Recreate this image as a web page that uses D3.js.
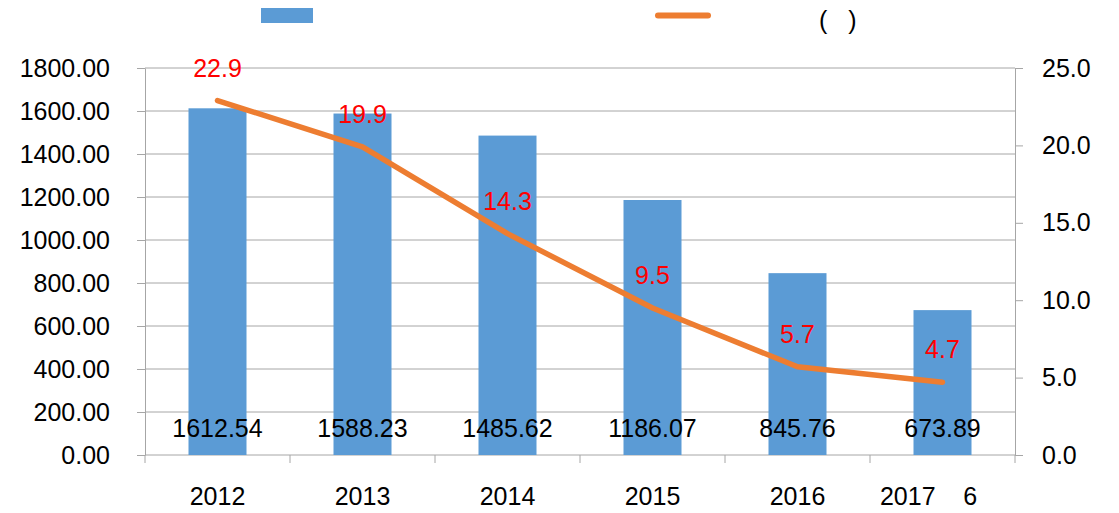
<!DOCTYPE html>
<html>
<head>
<meta charset="utf-8">
<script src="https://cdn.jsdelivr.net/npm/d3@7"></script>
<style>
  body { margin: 0; background: #fff; }
  text { font-family: "Liberation Sans", Arial, sans-serif; }
</style>
</head>
<body>
<svg width="1119" height="513"></svg>
<script>
var categories = ["2012", "2013", "2014", "2015", "2016", "2017    6    "];
var barValues = [1612.54, 1588.23, 1485.62, 1186.07, 845.76, 673.89];
var lineValues = [22.9, 19.9, 14.3, 9.5, 5.7, 4.7];
var leftTicks = [0, 200, 400, 600, 800, 1000, 1200, 1400, 1600, 1800];
var rightTicks = [0, 5, 10, 15, 20, 25];

var svg = d3.select("svg"),
    plotLeft = 145, plotRight = 1015,
    plotTop = 68, plotBottom = 455,
    gridColor = "#a6a6a6";

var xScale = d3.scaleBand().domain(categories).range([plotLeft, plotRight]).paddingInner(0.6).paddingOuter(0.3),
    xBand = d3.scaleBand().domain(categories).range([plotLeft, plotRight]),
    yLeft = d3.scaleLinear().domain([0, 1800]).range([plotBottom, plotTop]),
    yRight = d3.scaleLinear().domain([0, 25]).range([plotBottom, plotTop]);

// gridlines
svg.append("g")
    .selectAll("line")
    .data(leftTicks)
    .enter().append("line")
    .attr("x1", plotLeft).attr("x2", plotRight)
    .attr("y1", d => yLeft(d)).attr("y2", d => yLeft(d))
    .attr("stroke", gridColor)
    .attr("stroke-width", 1);

// left axis
var gl = svg.append("g")
    .attr("transform", "translate(" + plotLeft + ",0)")
    .call(d3.axisLeft(yLeft).tickValues(leftTicks).tickFormat(d3.format(".2f"))
        .tickSize(8).tickSizeOuter(0).tickPadding(27));

// right axis
var gr = svg.append("g")
    .attr("transform", "translate(" + plotRight + ",0)")
    .call(d3.axisRight(yRight).tickValues(rightTicks).tickFormat(d3.format(".1f"))
        .tickSize(8).tickSizeOuter(0).tickPadding(19));

[gl, gr].forEach(function(g) {
    g.select(".domain").attr("stroke", gridColor);
    g.selectAll(".tick line").attr("stroke", gridColor);
    g.selectAll(".tick text")
        .attr("font-size", "25px")
        .attr("fill", "#000")
        .style("font-family", "'Liberation Sans', Arial, sans-serif");
});

// category boundary ticks
var bounds = categories.map(d => xBand(d)).concat([plotRight]);
svg.append("g")
    .selectAll("line")
    .data(bounds)
    .enter().append("line")
    .attr("x1", d => d).attr("x2", d => d)
    .attr("y1", plotBottom).attr("y2", plotBottom + 8)
    .attr("stroke", gridColor);

// category labels
svg.append("g")
    .selectAll("text")
    .data(categories)
    .enter().append("text")
    .attr("x", d => xBand(d) + xBand.bandwidth() / 2)
    .attr("y", 505)
    .attr("text-anchor", "middle")
    .attr("font-size", "25px")
    .style("white-space", "pre")
    .text(d => d);

// bars
svg.append("g")
    .selectAll("rect")
    .data(barValues)
    .enter().append("rect")
    .attr("x", (d, i) => xScale(categories[i]))
    .attr("y", d => yLeft(d))
    .attr("width", xScale.bandwidth())
    .attr("height", d => plotBottom - yLeft(d))
    .attr("fill", "#5b9bd5");

// bar labels
svg.append("g")
    .selectAll("text")
    .data(barValues)
    .enter().append("text")
    .attr("x", (d, i) => xBand(categories[i]) + xBand.bandwidth() / 2)
    .attr("y", 437)
    .attr("text-anchor", "middle")
    .attr("font-size", "25px")
    .attr("fill", "#000")
    .text(d => d3.format(".2f")(d));

// line
var line = d3.line()
    .x((d, i) => xBand(categories[i]) + xBand.bandwidth() / 2)
    .y(d => yRight(d));

svg.append("path")
    .datum(lineValues)
    .attr("d", line)
    .attr("fill", "none")
    .attr("stroke", "#ed7d31")
    .attr("stroke-width", 5.5)
    .attr("stroke-linecap", "round")
    .attr("stroke-linejoin", "round");

// line labels
svg.append("g")
    .selectAll("text")
    .data(lineValues)
    .enter().append("text")
    .attr("x", (d, i) => xBand(categories[i]) + xBand.bandwidth() / 2)
    .attr("y", d => yRight(d) - 24)
    .attr("text-anchor", "middle")
    .attr("font-size", "25px")
    .attr("fill", "#ff0000")
    .text(d => d3.format(".1f")(d));

// legend
svg.append("rect")
    .attr("x", 261).attr("y", 8)
    .attr("width", 52).attr("height", 15)
    .attr("fill", "#5b9bd5");

svg.append("line")
    .attr("x1", 658).attr("x2", 708)
    .attr("y1", 15.5).attr("y2", 15.5)
    .attr("stroke", "#ed7d31")
    .attr("stroke-width", 6)
    .attr("stroke-linecap", "round");

svg.append("text")
    .attr("x", 819).attr("y", 29)
    .attr("font-size", "25px")
    .style("white-space", "pre")
    .text("(   )");
</script>
</body>
</html>
